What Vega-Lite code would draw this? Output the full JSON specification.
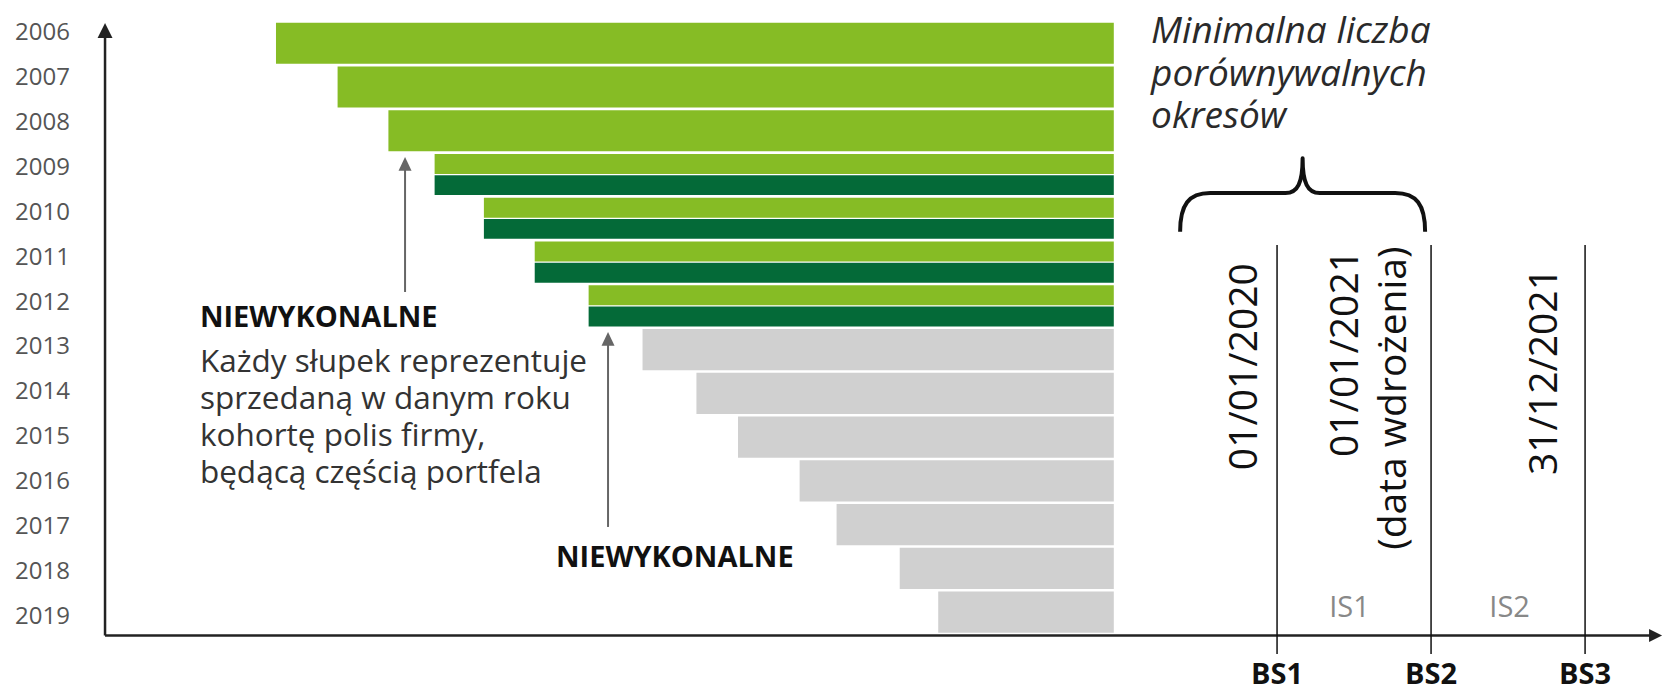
{
  "$schema": "https://vega.github.io/schema/vega-lite/v6.json",
  "width": 1663,
  "height": 691,
  "padding": 0,
  "autosize": {"type": "none"},
  "background": "white",
  "config": {"view": {"stroke": null}, "font": "Open Sans", "text": {"font": "Open Sans"}},
  "datasets": {
    "slupki": [
      {"rok": 2006, "poczatek": 2013.50, "koniec": 2018.94, "grupa": "jasnozielona"},
      {"rok": 2007, "poczatek": 2013.90, "koniec": 2018.94, "grupa": "jasnozielona"},
      {"rok": 2008, "poczatek": 2014.23, "koniec": 2018.94, "grupa": "jasnozielona"},
      {"rok": 2013, "poczatek": 2015.88, "koniec": 2018.94, "grupa": "szara"},
      {"rok": 2014, "poczatek": 2016.23, "koniec": 2018.94, "grupa": "szara"},
      {"rok": 2015, "poczatek": 2016.50, "koniec": 2018.94, "grupa": "szara"},
      {"rok": 2016, "poczatek": 2016.90, "koniec": 2018.94, "grupa": "szara"},
      {"rok": 2017, "poczatek": 2017.14, "koniec": 2018.94, "grupa": "szara"},
      {"rok": 2018, "poczatek": 2017.55, "koniec": 2018.94, "grupa": "szara"},
      {"rok": 2019, "poczatek": 2017.80, "koniec": 2018.94, "grupa": "szara"}
    ],
    "slupki_dzielone": [
      {"rok": 2009, "czesc": "górna", "poczatek": 2014.53, "koniec": 2018.94, "grupa": "jasnozielona"},
      {"rok": 2009, "czesc": "dolna", "poczatek": 2014.53, "koniec": 2018.94, "grupa": "ciemnozielona"},
      {"rok": 2010, "czesc": "górna", "poczatek": 2014.85, "koniec": 2018.94, "grupa": "jasnozielona"},
      {"rok": 2010, "czesc": "dolna", "poczatek": 2014.85, "koniec": 2018.94, "grupa": "ciemnozielona"},
      {"rok": 2011, "czesc": "górna", "poczatek": 2015.18, "koniec": 2018.94, "grupa": "jasnozielona"},
      {"rok": 2011, "czesc": "dolna", "poczatek": 2015.18, "koniec": 2018.94, "grupa": "ciemnozielona"},
      {"rok": 2012, "czesc": "górna", "poczatek": 2015.53, "koniec": 2018.94, "grupa": "jasnozielona"},
      {"rok": 2012, "czesc": "dolna", "poczatek": 2015.53, "koniec": 2018.94, "grupa": "ciemnozielona"}
    ],
    "lata": [
      {"rok": 2006}, {"rok": 2007}, {"rok": 2008}, {"rok": 2009}, {"rok": 2010},
      {"rok": 2011}, {"rok": 2012}, {"rok": 2013}, {"rok": 2014}, {"rok": 2015},
      {"rok": 2016}, {"rok": 2017}, {"rok": 2018}, {"rok": 2019}
    ],
    "osie": [
      {"nazwa": "oś kohort", "x_od": 2012.39, "x_do": 2012.39, "y_od": 2019.42, "y_do": 2005.93},
      {"nazwa": "oś czasu", "x_od": 2012.39, "x_do": 2022.46, "y_od": 2019.42, "y_do": 2019.42}
    ],
    "grot_pion": [{"t": 2012.39, "y": 2005.768}],
    "grot_poziom": [{"t": 2022.50, "y": 2019.42}],
    "bilanse": [
      {"etykieta": "BS1", "t": 2020},
      {"etykieta": "BS2", "t": 2021},
      {"etykieta": "BS3", "t": 2022}
    ],
    "okresy": [
      {"etykieta": "IS1", "t": 2020.47},
      {"etykieta": "IS2", "t": 2021.51}
    ],
    "daty": [
      {"tekst": "01/01/2020", "t": 2019.79, "y": 2011.12},
      {"tekst": "01/01/2021", "t": 2020.45, "y": 2010.827},
      {"tekst": "(data wdrożenia)", "t": 2020.76, "y": 2010.75},
      {"tekst": "31/12/2021", "t": 2021.74, "y": 2011.23}
    ],
    "strzalki": [
      {"t": 2014.338, "od": 2011.763, "trzon_do": 2008.91, "grot": 2008.755},
      {"t": 2015.656, "od": 2017.0, "trzon_do": 2012.81, "grot": 2012.655}
    ],
    "klamra": [{"t": 2020.166, "y": 2009.602}],
    "tytul": [{"tekst": "Minimalna liczba\nporównywalnych\nokresów", "t": 2019.182, "y": 2006.214}],
    "niewykonalne": [
      {"tekst": "NIEWYKONALNE", "t": 2013.006, "y": 2012.543},
      {"tekst": "NIEWYKONALNE", "t": 2015.318, "y": 2017.892}
    ],
    "opis": [{"tekst": "Każdy słupek reprezentuje\nsprzedaną w danym roku\nkohortę polis firmy,\nbędącą częścią portfela", "t": 2013.006, "y": 2013.546}]
  },
  "layer": [
    {
      "layer": [
        {
          "data": {"name": "slupki"},
          "mark": {"type": "bar"},
          "encoding": {
            "x": {"field": "poczatek", "type": "quantitative", "scale": {"domain": [2011.708, 2022.506], "nice": false, "zero": false}, "axis": null},
            "x2": {"field": "koniec"},
            "y": {"field": "rok", "type": "ordinal", "scale": {"domain": [2006, 2007, 2008, 2009, 2010, 2011, 2012, 2013, 2014, 2015, 2016, 2017, 2018, 2019], "range": [22.7, 632.7], "paddingInner": 0.06, "paddingOuter": 0}, "axis": null},
            "color": {"field": "grupa", "type": "nominal", "scale": {"domain": ["jasnozielona", "ciemnozielona", "szara"], "range": ["#86BC25", "#046A38", "#D0D0D0"]}, "legend": null}
          }
        },
        {
          "data": {"name": "slupki_dzielone"},
          "mark": {"type": "bar"},
          "encoding": {
            "x": {"field": "poczatek", "type": "quantitative", "scale": {"domain": [2011.708, 2022.506], "nice": false, "zero": false}, "axis": null},
            "x2": {"field": "koniec"},
            "y": {"field": "rok", "type": "ordinal", "scale": {"domain": [2006, 2007, 2008, 2009, 2010, 2011, 2012, 2013, 2014, 2015, 2016, 2017, 2018, 2019], "range": [22.7, 632.7], "paddingInner": 0.06, "paddingOuter": 0}, "axis": null},
            "yOffset": {"field": "czesc", "type": "nominal", "scale": {"domain": ["górna", "dolna"], "paddingInner": 0.06}},
            "color": {"field": "grupa", "type": "nominal", "scale": {"domain": ["jasnozielona", "ciemnozielona", "szara"], "range": ["#86BC25", "#046A38", "#D0D0D0"]}, "legend": null}
          }
        }
      ]
    },
    {
      "layer": [
        {
          "data": {"name": "osie"},
          "mark": {"type": "rule", "stroke": "#222222", "strokeWidth": 2.5},
          "encoding": {
            "x": {"field": "x_od", "type": "quantitative", "scale": {"domain": [2011.708, 2022.506], "nice": false, "zero": false}, "axis": null},
            "x2": {"field": "x_do"},
            "y": {"field": "y_od", "type": "quantitative", "scale": {"domain": [2006, 2019], "range": [33.4, 616.7], "nice": false, "zero": false}, "axis": null},
            "y2": {"field": "y_do"}
          }
        },
        {
          "data": {"name": "bilanse"},
          "mark": {"type": "rule", "stroke": "#111111", "strokeWidth": 1.5},
          "encoding": {
            "x": {"field": "t", "type": "quantitative", "scale": {"domain": [2011.708, 2022.506], "nice": false, "zero": false}, "axis": null},
            "y": {"datum": 2010.716, "type": "quantitative", "scale": {"domain": [2006, 2019], "range": [33.4, 616.7], "nice": false, "zero": false}, "axis": null},
            "y2": {"datum": 2019.831}
          }
        },
        {
          "data": {"name": "strzalki"},
          "mark": {"type": "rule", "stroke": "#666666", "strokeWidth": 2},
          "encoding": {
            "x": {"field": "t", "type": "quantitative", "scale": {"domain": [2011.708, 2022.506], "nice": false, "zero": false}, "axis": null},
            "y": {"field": "od", "type": "quantitative", "scale": {"domain": [2006, 2019], "range": [33.4, 616.7], "nice": false, "zero": false}, "axis": null},
            "y2": {"field": "trzon_do"}
          }
        },
        {
          "data": {"name": "strzalki"},
          "mark": {"type": "point", "shape": "M 0 0 L 1 2.1 L -1 2.1 Z", "filled": true, "fill": "#666666", "stroke": null, "size": 169, "opacity": 1},
          "encoding": {
            "x": {"field": "t", "type": "quantitative", "scale": {"domain": [2011.708, 2022.506], "nice": false, "zero": false}, "axis": null},
            "y": {"field": "grot", "type": "quantitative", "scale": {"domain": [2006, 2019], "range": [33.4, 616.7], "nice": false, "zero": false}, "axis": null}
          }
        },
        {
          "data": {"name": "grot_pion"},
          "mark": {"type": "point", "shape": "M 0 0 L 1 2 L -1 2 Z", "filled": true, "fill": "#222222", "stroke": null, "size": 225, "opacity": 1},
          "encoding": {
            "x": {"field": "t", "type": "quantitative", "scale": {"domain": [2011.708, 2022.506], "nice": false, "zero": false}, "axis": null},
            "y": {"field": "y", "type": "quantitative", "scale": {"domain": [2006, 2019], "range": [33.4, 616.7], "nice": false, "zero": false}, "axis": null}
          }
        },
        {
          "data": {"name": "grot_poziom"},
          "mark": {"type": "point", "shape": "M 0 0 L -2 -1 L -2 1 Z", "filled": true, "fill": "#222222", "stroke": null, "size": 169, "opacity": 1},
          "encoding": {
            "x": {"field": "t", "type": "quantitative", "scale": {"domain": [2011.708, 2022.506], "nice": false, "zero": false}, "axis": null},
            "y": {"field": "y", "type": "quantitative", "scale": {"domain": [2006, 2019], "range": [33.4, 616.7], "nice": false, "zero": false}, "axis": null}
          }
        },
        {
          "data": {"name": "klamra"},
          "mark": {"type": "point", "shape": "M -1 0.3 C -1 0.08 -0.93 -0.016 -0.755 -0.016 L -0.14 -0.016 C -0.04 -0.016 0 -0.1 0 -0.3 C 0 -0.1 0.04 -0.016 0.14 -0.016 L 0.755 -0.016 C 0.93 -0.016 1 0.08 1 0.3", "filled": false, "stroke": "#111111", "strokeWidth": 4, "strokeJoin": "round", "size": 60025, "opacity": 1},
          "encoding": {
            "x": {"field": "t", "type": "quantitative", "scale": {"domain": [2011.708, 2022.506], "nice": false, "zero": false}, "axis": null},
            "y": {"field": "y", "type": "quantitative", "scale": {"domain": [2006, 2019], "range": [33.4, 616.7], "nice": false, "zero": false}, "axis": null}
          }
        },
        {
          "data": {"name": "tytul"},
          "mark": {"type": "text", "align": "left", "baseline": "alphabetic", "fontSize": 37, "fontStyle": "italic", "color": "#2a2a2a", "lineBreak": "\n", "lineHeight": 42.5},
          "encoding": {
            "x": {"field": "t", "type": "quantitative", "scale": {"domain": [2011.708, 2022.506], "nice": false, "zero": false}, "axis": null},
            "y": {"field": "y", "type": "quantitative", "scale": {"domain": [2006, 2019], "range": [33.4, 616.7], "nice": false, "zero": false}, "axis": null},
            "text": {"field": "tekst", "type": "nominal"}
          }
        },
        {
          "data": {"name": "niewykonalne"},
          "mark": {"type": "text", "align": "left", "baseline": "alphabetic", "fontSize": 29, "fontWeight": "bold", "color": "#111111"},
          "encoding": {
            "x": {"field": "t", "type": "quantitative", "scale": {"domain": [2011.708, 2022.506], "nice": false, "zero": false}, "axis": null},
            "y": {"field": "y", "type": "quantitative", "scale": {"domain": [2006, 2019], "range": [33.4, 616.7], "nice": false, "zero": false}, "axis": null},
            "text": {"field": "tekst", "type": "nominal"}
          }
        },
        {
          "data": {"name": "opis"},
          "mark": {"type": "text", "align": "left", "baseline": "alphabetic", "fontSize": 31.5, "color": "#333333", "lineBreak": "\n", "lineHeight": 37},
          "encoding": {
            "x": {"field": "t", "type": "quantitative", "scale": {"domain": [2011.708, 2022.506], "nice": false, "zero": false}, "axis": null},
            "y": {"field": "y", "type": "quantitative", "scale": {"domain": [2006, 2019], "range": [33.4, 616.7], "nice": false, "zero": false}, "axis": null},
            "text": {"field": "tekst", "type": "nominal"}
          }
        },
        {
          "data": {"name": "daty"},
          "mark": {"type": "text", "align": "right", "baseline": "middle", "angle": 270, "fontSize": 39, "color": "#111111"},
          "encoding": {
            "x": {"field": "t", "type": "quantitative", "scale": {"domain": [2011.708, 2022.506], "nice": false, "zero": false}, "axis": null},
            "y": {"field": "y", "type": "quantitative", "scale": {"domain": [2006, 2019], "range": [33.4, 616.7], "nice": false, "zero": false}, "axis": null},
            "text": {"field": "tekst", "type": "nominal"}
          }
        },
        {
          "data": {"name": "lata"},
          "mark": {"type": "text", "align": "right", "baseline": "middle", "fontSize": 24, "color": "#555555"},
          "encoding": {
            "x": {"datum": 2012.162, "type": "quantitative", "scale": {"domain": [2011.708, 2022.506], "nice": false, "zero": false}, "axis": null},
            "y": {"field": "rok", "type": "quantitative", "scale": {"domain": [2006, 2019], "range": [33.4, 616.7], "nice": false, "zero": false}, "axis": null},
            "text": {"field": "rok", "type": "nominal"}
          }
        },
        {
          "data": {"name": "bilanse"},
          "mark": {"type": "text", "align": "center", "baseline": "middle", "fontSize": 29, "fontWeight": "bold", "color": "#111111"},
          "encoding": {
            "x": {"field": "t", "type": "quantitative", "scale": {"domain": [2011.708, 2022.506], "nice": false, "zero": false}, "axis": null},
            "y": {"datum": 2020.30, "type": "quantitative", "scale": {"domain": [2006, 2019], "range": [33.4, 616.7], "nice": false, "zero": false}, "axis": null},
            "text": {"field": "etykieta", "type": "nominal"}
          }
        },
        {
          "data": {"name": "okresy"},
          "mark": {"type": "text", "align": "center", "baseline": "middle", "fontSize": 29, "color": "#888888"},
          "encoding": {
            "x": {"field": "t", "type": "quantitative", "scale": {"domain": [2011.708, 2022.506], "nice": false, "zero": false}, "axis": null},
            "y": {"datum": 2018.806, "type": "quantitative", "scale": {"domain": [2006, 2019], "range": [33.4, 616.7], "nice": false, "zero": false}, "axis": null},
            "text": {"field": "etykieta", "type": "nominal"}
          }
        }
      ]
    }
  ],
  "resolve": {"scale": {"y": "independent"}}
}
